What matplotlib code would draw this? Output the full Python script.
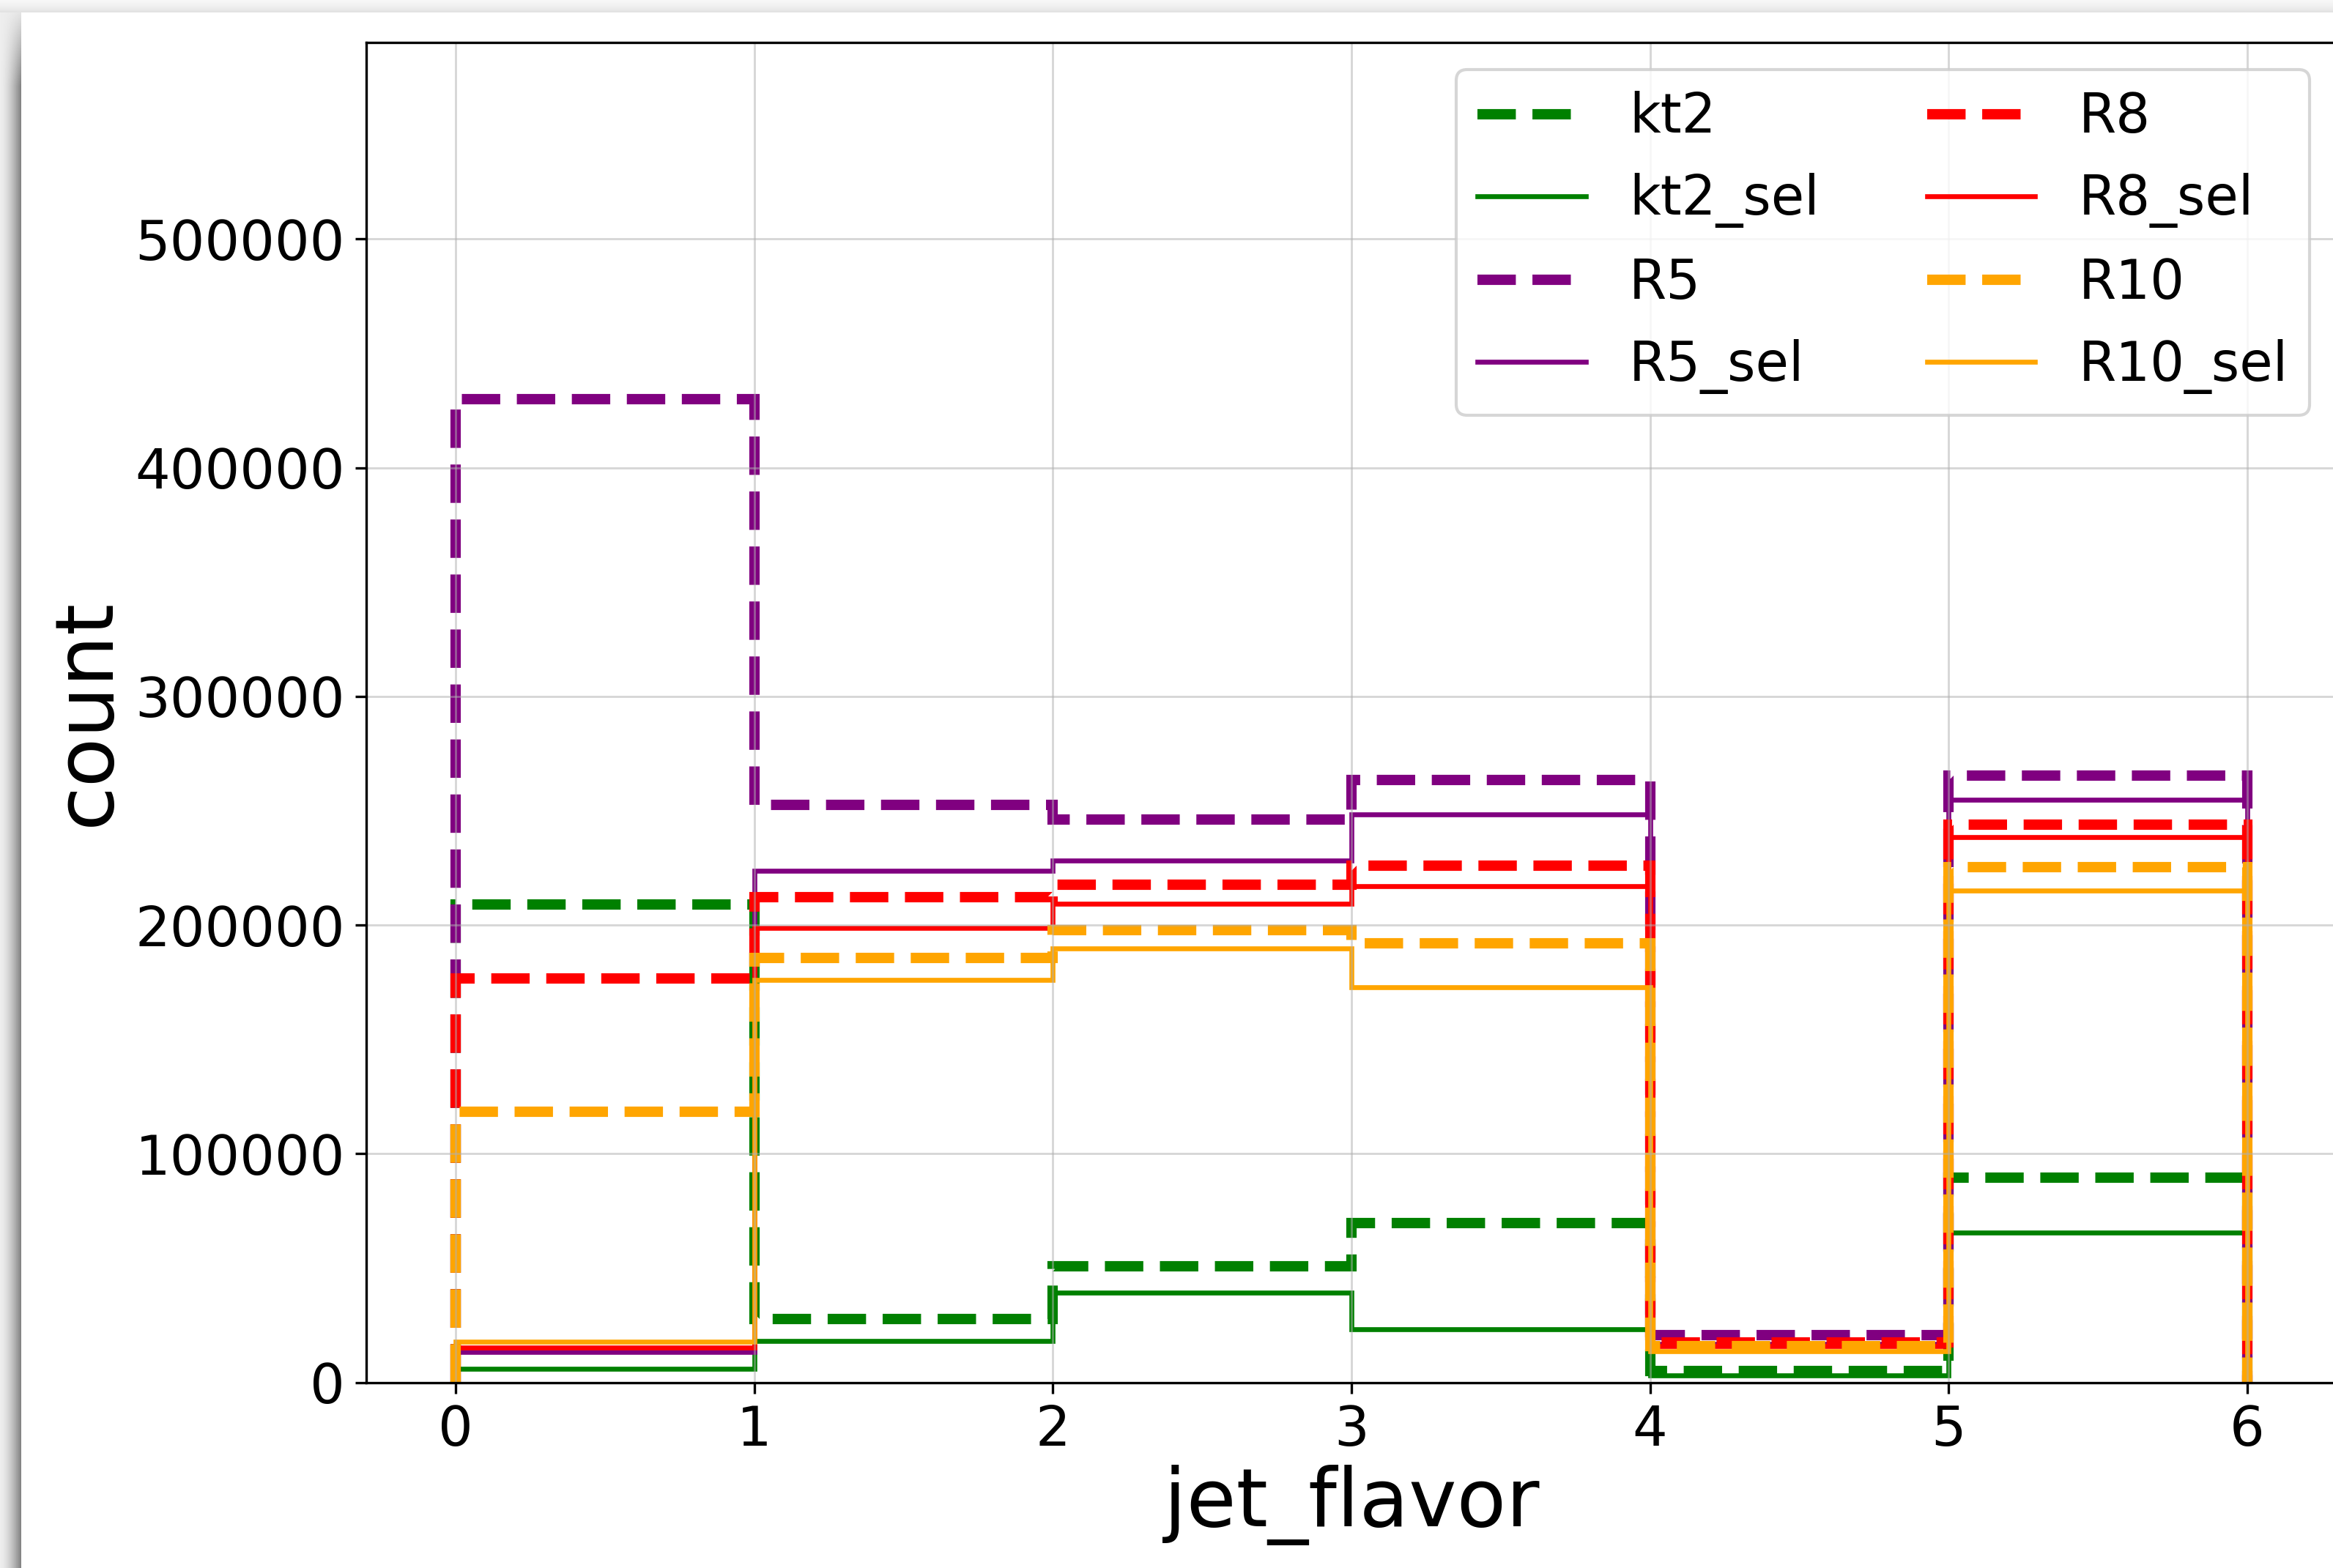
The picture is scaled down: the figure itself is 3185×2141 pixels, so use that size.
import matplotlib
matplotlib.use("Agg")
import matplotlib.pyplot as plt
import numpy as np

# бін-границі jet_flavor та кількості джетів у кожному біні
edges = [0, 1, 2, 3, 4, 5, 6]

kt2 = [209000, 27700, 50900, 69600, 5100, 89500]
kt2_sel = [5800, 18200, 39300, 23300, 2900, 65600]
R5 = [429900, 252500, 246300, 263600, 20500, 265400]
R5_sel = [13300, 223700, 228300, 248500, 16800, 254900]
R8 = [176600, 212300, 217600, 225900, 17300, 243900]
R8_sel = [15100, 198900, 209300, 216900, 16000, 238400]
R10 = [118300, 185600, 197800, 192100, 15700, 225200]
R10_sel = [17800, 175900, 189700, 172800, 13500, 215200]

series = [
    ("kt2", kt2, "green", "--"),
    ("kt2_sel", kt2_sel, "green", "-"),
    ("R5", R5, "purple", "--"),
    ("R5_sel", R5_sel, "purple", "-"),
    ("R8", R8, "red", "--"),
    ("R8_sel", R8_sel, "red", "-"),
    ("R10", R10, "orange", "--"),
    ("R10_sel", R10_sel, "orange", "-"),
]

W, H = 3185, 2141
DPI = 300
fig = plt.figure(figsize=(W / DPI, H / DPI), dpi=DPI, facecolor="white")

# тінь вікна зліва та зверху
sx, sy = 29, 17
xx = np.linspace(0, 1, sx)
rows = np.arange(H - sy)
fade = np.clip((rows + 10) / 110, 0, 1)[:, None]
left = 1 - (0.07 + 0.42 * xx[None, :] ** 1.6 * fade)
fig.figimage(left, xo=0, yo=0, cmap="gray", vmin=0, vmax=1, origin="upper", zorder=0)
yy = np.linspace(0, 1, sy)[:, None]
top = np.repeat(0.965 - 0.08 * yy ** 1.5, W, axis=1)
fig.figimage(top, xo=0, yo=H - sy, cmap="gray", vmin=0, vmax=1, origin="upper", zorder=0)

# осі виходять за правий край (обрізаний скріншот)
ax = fig.add_axes([500 / W, 1 - 1887.5 / H, 2690 / W, (1887.5 - 58) / H])

for label, vals, color, ls in series:
    lw = 3.4 if ls == "--" else 1.6
    ax.stairs(vals, edges, label=label, color=color, linestyle=ls, linewidth=lw)

ax.set_xlim(-0.3, 6.3)
ax.set_ylim(0, 586000)
ax.set_xticks(range(7))
ax.set_yticks(range(0, 500001, 100000))
ax.tick_params(labelsize=18)
ax.grid(color="#b0b0b0", alpha=0.5, linewidth=0.7)
ax.set_xlabel("jet_flavor", fontsize=26.5, labelpad=2.5)
ax.set_ylabel("count", fontsize=26.5, labelpad=3)
ax.legend(ncol=2, fontsize=17.7, loc="upper right", labelspacing=0.53)

fig.savefig("out.png", dpi=DPI)
